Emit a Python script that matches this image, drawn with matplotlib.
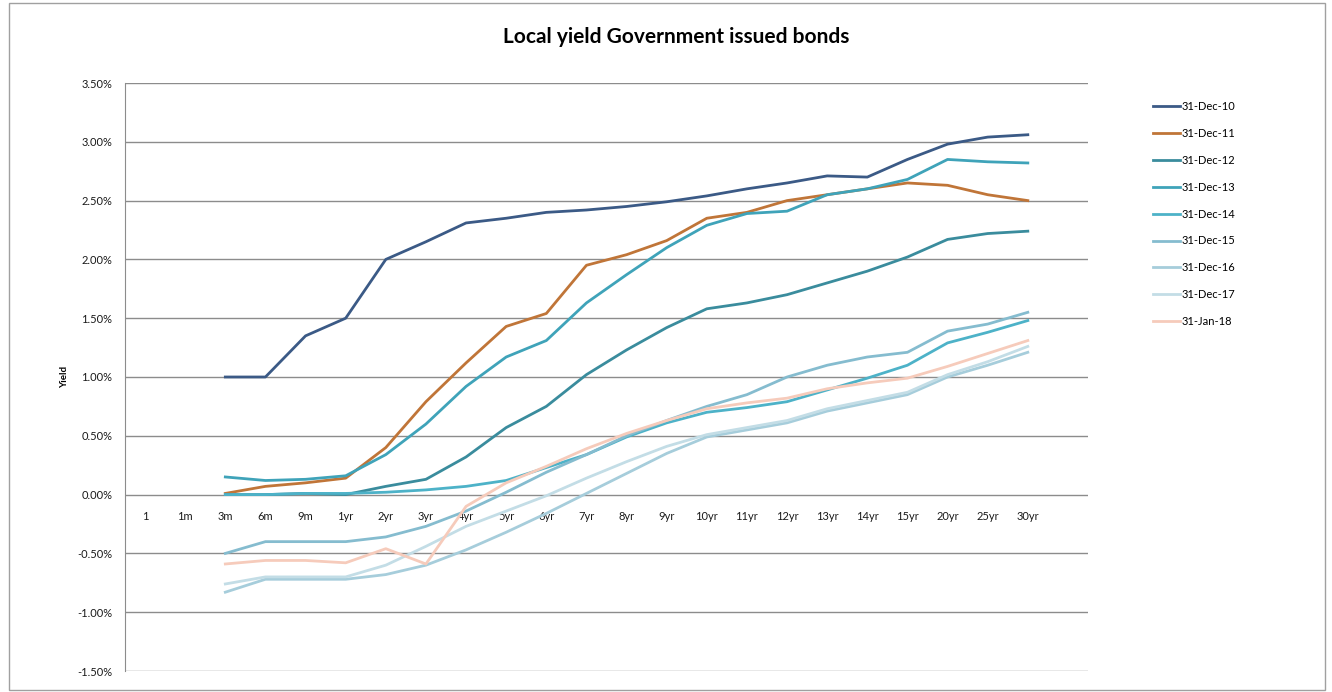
import matplotlib
matplotlib.use("Agg")
import matplotlib.pyplot as plt
from matplotlib.patches import Rectangle
from matplotlib.ticker import FuncFormatter

plt.rcParams['font.family'] = ['Lato', 'DejaVu Sans']

tenors = ['1', '1m', '3m', '6m', '9m', '1yr', '2yr', '3yr', '4yr', '5yr', '6yr', '7yr',
          '8yr', '9yr', '10yr', '11yr', '12yr', '13yr', '14yr', '15yr', '20yr', '25yr', '30yr']

# yields in %, first two tenors ('1', '1m') have no data
nan = float('nan')
dec10 = [nan, nan, 1.00, 1.00, 1.35, 1.50, 2.00, 2.15, 2.31, 2.35, 2.40, 2.42,
         2.45, 2.49, 2.54, 2.60, 2.65, 2.71, 2.70, 2.85, 2.98, 3.04, 3.06]
dec11 = [nan, nan, 0.01, 0.07, 0.10, 0.14, 0.40, 0.79, 1.12, 1.43, 1.54, 1.95,
         2.04, 2.16, 2.35, 2.40, 2.50, 2.55, 2.60, 2.65, 2.63, 2.55, 2.50]
dec12 = [nan, nan, 0.00, 0.00, 0.01, 0.00, 0.07, 0.13, 0.32, 0.57, 0.75, 1.02,
         1.23, 1.42, 1.58, 1.63, 1.70, 1.80, 1.90, 2.02, 2.17, 2.22, 2.24]
dec13 = [nan, nan, 0.15, 0.12, 0.13, 0.16, 0.34, 0.60, 0.92, 1.17, 1.31, 1.63,
         1.87, 2.10, 2.29, 2.39, 2.41, 2.55, 2.60, 2.68, 2.85, 2.83, 2.82]
dec14 = [nan, nan, 0.00, 0.00, 0.01, 0.01, 0.02, 0.04, 0.07, 0.12, 0.23, 0.34,
         0.49, 0.61, 0.70, 0.74, 0.79, 0.89, 0.99, 1.10, 1.29, 1.38, 1.48]
dec15 = [nan, nan, -0.50, -0.40, -0.40, -0.40, -0.36, -0.27, -0.14, 0.02, 0.19, 0.34,
         0.50, 0.63, 0.75, 0.85, 1.00, 1.10, 1.17, 1.21, 1.39, 1.45, 1.55]
dec16 = [nan, nan, -0.83, -0.72, -0.72, -0.72, -0.68, -0.60, -0.47, -0.32, -0.16, 0.01,
         0.18, 0.35, 0.49, 0.55, 0.61, 0.71, 0.78, 0.85, 1.00, 1.10, 1.21]
dec17 = [nan, nan, -0.76, -0.70, -0.70, -0.70, -0.60, -0.44, -0.27, -0.14, -0.01, 0.14,
         0.28, 0.41, 0.51, 0.57, 0.63, 0.73, 0.80, 0.87, 1.02, 1.13, 1.26]
jan18 = [nan, nan, -0.59, -0.56, -0.56, -0.58, -0.46, -0.59, -0.10, 0.10, 0.24, 0.39,
         0.52, 0.63, 0.73, 0.78, 0.82, 0.90, 0.95, 0.99, 1.09, 1.20, 1.31]

labels = ['31-Dec-10', '31-Dec-11', '31-Dec-12', '31-Dec-13', '31-Dec-14',
          '31-Dec-15', '31-Dec-16', '31-Dec-17', '31-Jan-18']
series = [dec10, dec11, dec12, dec13, dec14, dec15, dec16, dec17, jan18]
colors = ['#3b5a86', '#c07538', '#3a8c9d', '#3fa3b9', '#4db2c8',
          '#85bccf', '#a6cddb', '#c3dde6', '#f6cbbb']

fig = plt.figure(figsize=(13.32, 6.92), dpi=100)
ax = fig.add_axes([125 / 1332, 1 - 671 / 692, (1088 - 125) / 1332, (671 - 83) / 692])

x = list(range(len(tenors)))
for vals, lab, col in zip(series, labels, colors):
    ax.plot(x, vals, color=col, lw=2.0, label=lab, solid_joinstyle='round')

ax.set_xlim(-0.5, len(tenors) + 0.5)
ax.set_ylim(-1.5, 3.5)
ax.set_yticks([-1.5, -1.0, -0.5, 0, 0.5, 1.0, 1.5, 2.0, 2.5, 3.0, 3.5])
ax.yaxis.set_major_formatter(FuncFormatter(lambda v, p: f'{v:.2f}%'))
ax.grid(axis='y', color='#8c8c8c', lw=1.0)
ax.set_axisbelow(True)

ax.set_xticks(x)
ax.set_xticklabels(tenors)
ax.spines['bottom'].set_position(('data', 0))
ax.spines['bottom'].set_visible(False)
ax.spines['top'].set_visible(False)
ax.spines['right'].set_visible(False)
ax.spines['left'].set_color('#8c8c8c')
ax.tick_params(axis='x', length=0, pad=12, labelsize=8, labelcolor='#1a1a1a')
ax.tick_params(axis='y', length=0, pad=9, labelsize=8, labelcolor='#1a1a1a')

ax.set_ylabel('Yield', fontsize=7, fontweight='bold', labelpad=6)

fig.text(0.508, 0.947, 'Local yield Government issued bonds', ha='center', va='center',
         fontsize=15, fontweight='bold')

fig.legend(loc='upper left', bbox_to_anchor=(1143 / 1332, 1 - 91 / 692), frameon=False,
           fontsize=8, handlelength=2.4, handletextpad=0.2, labelspacing=1.43)

fig.patches.append(Rectangle((9 / 1332, 2 / 692), 1316 / 1332, 687 / 692, transform=fig.transFigure,
                             fill=False, edgecolor='#a0a0a0', lw=1.0))

fig.savefig('out.png', dpi=100)
